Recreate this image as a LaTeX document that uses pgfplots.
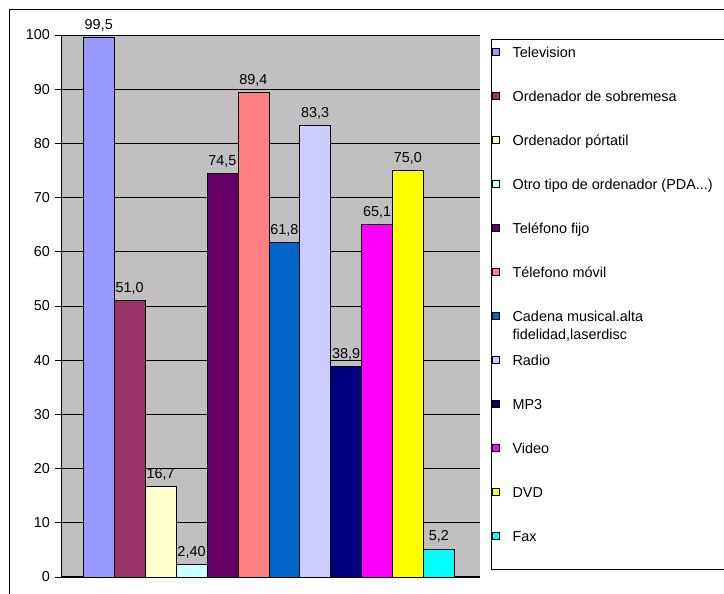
\documentclass[border=0pt]{standalone}
\usepackage{pgfplots}
\pgfplotsset{compat=1.18}
\usepackage{fontspec}
\setmainfont{Liberation Sans}
\definecolor{cA}{HTML}{9999FF}
\definecolor{cB}{HTML}{993366}
\definecolor{cC}{HTML}{FFFFCC}
\definecolor{cD}{HTML}{CCFFFF}
\definecolor{cE}{HTML}{660066}
\definecolor{cF}{HTML}{FF8080}
\definecolor{cG}{HTML}{0066CC}
\definecolor{cH}{HTML}{CCCCFF}
\definecolor{cI}{HTML}{000080}
\definecolor{cJ}{HTML}{FF00FF}
\definecolor{cK}{HTML}{FFFF00}
\definecolor{cL}{HTML}{00FFFF}
\definecolor{plotgray}{HTML}{C0C0C0}
\newcommand{\chfont}{\fontsize{14.4bp}{17.5bp}\selectfont}
\pgfplotsset{
  mybar/.style={fill=#1, draw=black, line width=0.6bp, bar shift=0pt, bar width=1,
    nodes near coords, point meta=explicit symbolic,
    legend image code/.code={\draw[fill=#1, draw=black, line width=0.6bp] (0bp,-1bp) rectangle (7bp,6bp);}}
}
\begin{document}
\chfont
\begin{tikzpicture}[x=1bp,y=1bp]
\useasboundingbox (0,0) rectangle (724,594);
\clip (0,0) rectangle (724,594);
\draw[black, line width=1bp] (9,584) rectangle (900,-100);
\draw[black, fill=white, line width=1bp] (491,24) rectangle (900,554);
\begin{axis}[
  at={(61bp,17bp)}, anchor=south west,
  scale only axis, width=419bp, height=542bp,
  xmin=-0.221, xmax=13.331, ymin=0, ymax=100,
  ytick={0,10,...,100}, xtick=\empty,
  axis background/.style={fill=plotgray},
  ymajorgrids, major grid style={black, line width=0.8bp},
  axis x line*=bottom, axis y line*=left,
  axis line style={black, line width=1bp, -},
  tick align=outside, major tick length=6bp, tick style={black, line width=0.8bp},
  /pgf/number format/assume math mode=true,
  yticklabel style={font=\chfont},
  ybar, clip=false,
  every node near coord/.append style={font=\chfont, text=black, yshift=1bp},
  legend cell align=left,
  legend style={draw=none, fill=none, inner sep=0pt, outer sep=0pt,
    at={(axis description cs:1.0286,0.9775)}, anchor=north west,
    row sep=30.5bp, column sep=13bp, font=\chfont,
    nodes={inner sep=0pt, outer sep=0pt, text height=10.5bp, text depth=3bp}},
]
\addplot[mybar=cA] coordinates {(1,99.5) [99,5]};
\addlegendentry{Television}
\addplot[mybar=cB] coordinates {(2,51.0) [51,0]};
\addlegendentry{Ordenador de sobremesa}
\addplot[mybar=cC] coordinates {(3,16.7) [16,7]};
\addlegendentry{Ordenador pórtatil}
\addplot[mybar=cD] coordinates {(4,2.40) [2,40]};
\addlegendentry{Otro tipo de ordenador (PDA...)}
\addplot[mybar=cE] coordinates {(5,74.5) [74,5]};
\addlegendentry{Teléfono fijo}
\addplot[mybar=cF] coordinates {(6,89.4) [89,4]};
\addlegendentry{Télefono móvil}
\addplot[mybar=cG] coordinates {(7,61.8) [61,8]};
\addlegendentry{\begin{tabular}[t]{@{}l@{}}Cadena musical.alta\\fidelidad,laserdisc\end{tabular}}
\addplot[mybar=cH] coordinates {(8,83.3) [83,3]};
\addlegendentry{Radio}
\addplot[mybar=cI] coordinates {(9,38.9) [38,9]};
\addlegendentry{MP3}
\addplot[mybar=cJ] coordinates {(10,65.1) [65,1]};
\addlegendentry{Video}
\addplot[mybar=cK] coordinates {(11,75.0) [75,0]};
\addlegendentry{DVD}
\addplot[mybar=cL] coordinates {(12,5.2) [5,2]};
\addlegendentry{Fax}
\end{axis}
\end{tikzpicture}
\end{document}
